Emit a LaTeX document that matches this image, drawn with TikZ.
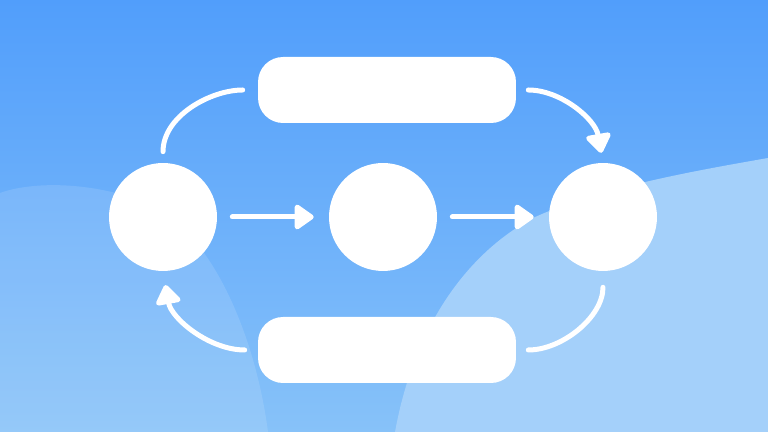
\documentclass[tikz,border=0pt]{standalone}
\usepackage{tikz}
\usetikzlibrary{arrows.meta,positioning}
\definecolor{skytop}{HTML}{519EFB}
\definecolor{skybot}{HTML}{87C2F9}
\definecolor{hill}{HTML}{A4D0FA}
\tikzset{
  stage/.style={circle,fill=white,minimum size=2.16cm,inner sep=0pt},
  bar/.style={rectangle,fill=white,minimum width=5.16cm,minimum height=1.32cm,rounded corners=0.5cm},
  flow/.style={white,line width=0.1cm,line cap=round},
  tip/.style={-{Triangle[width=0.56cm,length=0.42cm,round]}}
}
\begin{document}
\begin{tikzpicture}[x=0.02cm,y=0.02cm]
\useasboundingbox (0,0) rectangle (768,432);
% background
\shade[top color=skytop,bottom color=skybot] (0,0) rectangle (768,432);
\fill[white,opacity=0.12] (0,239) .. controls (30,250) and (90,252) .. (150,228)
  .. controls (210,200) and (255,100) .. (268,0) -- (0,0) -- cycle;
\fill[hill] (768,274) .. controls (700,262) and (600,245) .. (533,214)
  .. controls (470,180) and (415,110) .. (395,0) -- (768,0) -- cycle;
% nodes
\node[stage] (a) at (163,215) {};
\node[stage] (b) at (383,215) {};
\node[stage] (c) at (603,215) {};
\node[bar] (up) at (387,342) {};
\node[bar] (down) at (387,82) {};
% connectors
\draw[flow,tip,shorten <=0.3cm,shorten >=0.3cm] (a) -- (b);
\draw[flow,tip,shorten <=0.3cm,shorten >=0.3cm] (b) -- (c);
\draw[flow,shorten <=0.22cm,shorten >=0.3cm] (a.north) to[out=90,in=180] (up.west);
\draw[flow,tip,shorten <=0.24cm,shorten >=0.2cm] (up.east) to[out=0,in=100] (c.north);
\draw[flow,shorten <=0.32cm,shorten >=0.24cm] (c.south) to[out=-90,in=0] (down.east);
\draw[flow,tip,shorten <=0.26cm,shorten >=0.28cm] (down.west) to[out=180,in=-80] (a.south);
\end{tikzpicture}
\end{document}
